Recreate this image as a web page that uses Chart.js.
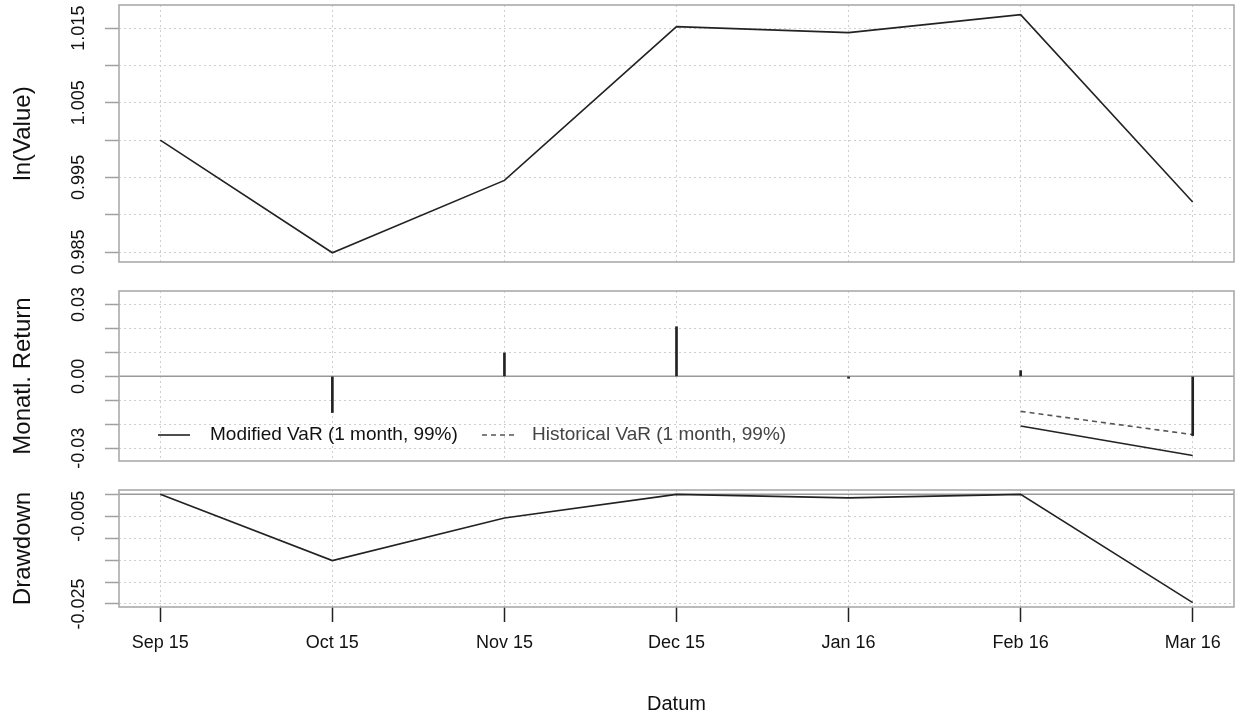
<!DOCTYPE html>
<html>
<head>
<meta charset="utf-8">
<script src="https://cdn.jsdelivr.net/npm/chart.js@4.4.1/dist/chart.umd.min.js"></script>
<style>
  body { margin: 0; background: #fff; }
  #wrap { position: relative; width: 1236px; height: 721px; }
  #wrap canvas { position: absolute; left: 0; }
</style>
</head>
<body>
<div id="wrap">
  <canvas id="valueChart" width="1236" height="285" style="top:0px"></canvas>
  <canvas id="returnChart" width="1236" height="210" style="top:270px"></canvas>
  <canvas id="drawdownChart" width="1236" height="251" style="top:470px"></canvas>
</div>
<script>
// Daten
const months = ['Sep 15', 'Oct 15', 'Nov 15', 'Dec 15', 'Jan 16', 'Feb 16', 'Mar 16'];
const lnValue = [1.0000, 0.9849, 0.9946, 1.0152, 1.0144, 1.0168, 0.9917];
const monthlyReturn = [null, -0.0151, 0.0098, 0.0207, -0.0008, 0.0024, -0.0247];
const drawdown = [0, -0.0151, -0.0054, 0, -0.0008, 0, -0.0247];
const varMonths = [5, 6];
const modifiedVaR = [-0.0207, -0.0330];
const historicalVaR = [-0.0146, -0.0243];

const valueTicks = [0.985, 0.990, 0.995, 1.000, 1.005, 1.010, 1.015];
const valueLabels = ['0.985', '', '0.995', '', '1.005', '', '1.015'];
const returnTicks = [-0.03, -0.02, -0.01, 0, 0.01, 0.02, 0.03];
const returnLabels = ['-0.03', '', '', '0.00', '', '', '0.03'];
const drawdownTicks = [-0.025, -0.020, -0.015, -0.010, -0.005, 0];
const drawdownLabels = ['-0.025', '', '', '', '-0.005', ''];

const FONT = '"Liberation Sans", Arial, sans-serif';
const gridColor = '#cfcfcf';

const toPoints = (xs, ys) => ys.map((v, i) => ({ x: xs[i], y: v }));
const idx = months.map((m, i) => i);

// Plugin für Rahmen, gedrehte Achsenbeschriftung usw.
function decor(cfg) {
    return {
        id: 'decor_' + cfg.id,
        beforeDatasetsDraw(chart) {
            const { ctx, chartArea: a, scales } = chart;
            if (cfg.zeroLine) {
                const y0 = scales.y.getPixelForValue(0);
                ctx.save();
                ctx.strokeStyle = '#9a9a9a';
                ctx.lineWidth = 1.5;
                ctx.beginPath();
                ctx.moveTo(a.left, y0);
                ctx.lineTo(a.right, y0);
                ctx.stroke();
                ctx.restore();
            }
        },
        afterDraw(chart) {
            const { ctx, chartArea: a, scales } = chart;
            ctx.save();
            ctx.strokeStyle = '#aaaaaa';
            ctx.lineWidth = 1.6;
            ctx.strokeRect(a.left, a.top, a.right - a.left, a.bottom - a.top);

            ctx.fillStyle = '#111';
            ctx.textAlign = 'center';
            ctx.textBaseline = 'middle';
            ctx.font = '18px ' + FONT;
            cfg.yTicks.forEach((v, i) => {
                if (!cfg.yLabels[i]) return;
                ctx.save();
                ctx.translate(79, scales.y.getPixelForValue(v));
                ctx.rotate(-Math.PI / 2);
                ctx.fillText(cfg.yLabels[i], 0, 0);
                ctx.restore();
            });

            ctx.font = '24px ' + FONT;
            ctx.save();
            ctx.translate(23, (a.top + a.bottom) / 2);
            ctx.rotate(-Math.PI / 2);
            ctx.fillText(cfg.title, 0, 0);
            ctx.restore();

            if (cfg.showX) {
                ctx.font = '18px ' + FONT;
                months.forEach((m, i) => {
                    ctx.fillText(m, scales.x.getPixelForValue(i), a.bottom + 36);
                });
                ctx.font = '20px ' + FONT;
                ctx.fillText('Datum', (a.left + a.right) / 2, a.bottom + 97);
            }

            if (cfg.legend) {
                const ly = a.bottom - 26;
                ctx.font = '19px ' + FONT;
                ctx.textAlign = 'left';
                chart.data.datasets.filter(d => d.inLegend).forEach((d, k) => {
                    const lx = a.left + (k === 0 ? 39 : 363);
                    ctx.strokeStyle = d.borderColor;
                    ctx.lineWidth = d.borderWidth;
                    ctx.setLineDash(d.borderDash || []);
                    ctx.beginPath();
                    ctx.moveTo(lx, ly);
                    ctx.lineTo(lx + 32, ly);
                    ctx.stroke();
                    ctx.setLineDash([]);
                    ctx.fillStyle = k === 0 ? '#111' : '#444';
                    ctx.fillText(d.label, lx + (k === 0 ? 52 : 50), ly);
                });
            }
            ctx.restore();
        }
    };
}

function createPanel(id, cfg) {
    cfg.id = id;
    return new Chart(document.getElementById(id), {
        type: 'line',
        data: { datasets: cfg.datasets },
        options: {
            responsive: false,
            animation: false,
            layout: { padding: { top: cfg.padTop, bottom: cfg.padBottom, left: 0, right: 2 } },
            plugins: { legend: { display: false }, tooltip: { enabled: false } },
            scales: {
                x: {
                    type: 'linear',
                    min: -0.24,
                    max: 6.24,
                    offset: false,
                    afterBuildTicks: s => { s.ticks = idx.map(i => ({ value: i })); },
                    afterFit: s => { s.height = cfg.xHeight; },
                    ticks: { display: false },
                    grid: { color: gridColor, offset: false, drawTicks: !!cfg.showX, tickLength: 15, tickColor: '#222', tickWidth: 1.5, tickBorderDash: [] },
                    border: { display: false, dash: [2, 3] }
                },
                y: {
                    min: cfg.yMin,
                    max: cfg.yMax,
                    afterBuildTicks: s => { s.ticks = cfg.yTicks.map(v => ({ value: v })); },
                    afterFit: s => { s.width = 119; },
                    ticks: { display: false },
                    grid: { color: gridColor, drawTicks: true, tickLength: 14, tickColor: '#a0a0a0', tickWidth: 1.5, tickBorderDash: [] },
                    border: { display: false, dash: [2, 3] }
                }
            }
        },
        plugins: [decor(cfg)]
    });
}

createPanel('valueChart', {
    title: 'ln(Value)',
    yMin: 0.98366, yMax: 1.0181,
    yTicks: valueTicks, yLabels: valueLabels,
    padTop: 5, padBottom: 23, xHeight: 0,
    datasets: [{
        data: toPoints(idx, lnValue),
        borderColor: '#222', borderWidth: 1.6, pointRadius: 0, tension: 0
    }]
});

createPanel('returnChart', {
    title: 'Monatl. Return',
    yMin: -0.0353, yMax: 0.0356,
    yTicks: returnTicks, yLabels: returnLabels,
    padTop: 21, padBottom: 19, xHeight: 0,
    zeroLine: true, legend: true,
    datasets: [{
        type: 'bar',
        data: toPoints(idx, monthlyReturn),
        backgroundColor: '#222', barThickness: 2
    }, {
        label: 'Modified VaR (1 month, 99%)', inLegend: true,
        data: toPoints(varMonths, modifiedVaR),
        borderColor: '#222', borderWidth: 1.6, pointRadius: 0
    }, {
        label: 'Historical VaR (1 month, 99%)', inLegend: true,
        data: toPoints(varMonths, historicalVaR),
        borderColor: '#555', borderWidth: 1.6, borderDash: [5, 4], pointRadius: 0
    }]
});

createPanel('drawdownChart', {
    title: 'Drawdown',
    yMin: -0.02569, yMax: 0.00099,
    yTicks: drawdownTicks, yLabels: drawdownLabels,
    padTop: 20, padBottom: 0, xHeight: 114,
    zeroLine: true, showX: true,
    datasets: [{
        data: toPoints(idx, drawdown),
        borderColor: '#222', borderWidth: 1.6, pointRadius: 0, tension: 0
    }]
});
</script>
</body>
</html>
